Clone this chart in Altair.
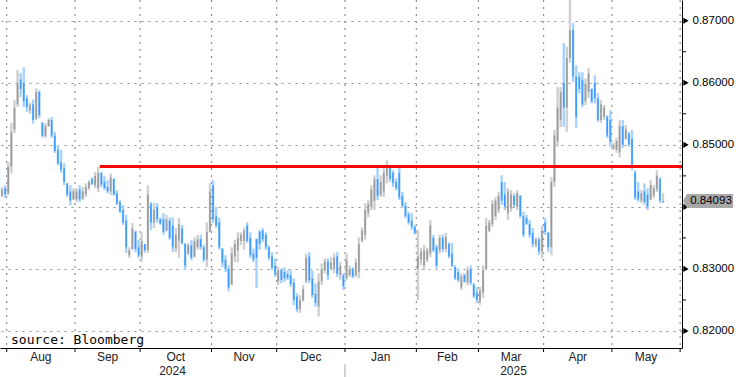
import altair as alt
import pandas as pd

# ---------------- data ----------------
START = "2024-07-29"          # first business day shown
OPEN = [
    .8445, .8418, .8430, .8422, .8465, .8525, .8565, .8605, .8600, .8575, .8555, .8565, .8542, .8585, .8535,
    .8514, .8530, .8540, .8515, .8492, .8472, .8462, .8438, .8425, .8412,
    .8412, .8428, .8413, .8420, .8430, .8445, .8435, .8430, .8455, .8440, .8432, .8425, .8445, .8422, .8408,
    .8395, .8378, .8322, .8332, .8360, .8335,
    .8320, .8340, .8330, .8405, .8375, .8400, .8380, .8380, .8362, .8378, .8370, .8333, .8345, .8365, .8340,
    .8325, .8338, .8320, .8335, .8348, .8335, .8315, .8360,
    .8435, .8385, .8375, .8333, .8315, .8300, .8275, .8320, .8330, .8345, .8345, .8370, .8350, .8325, .8348,
    .8360, .8362, .8355, .8335, .8320, .8305,
    .8280, .8298, .8295, .8292, .8290, .8278, .8255, .8235, .8250, .8280, .8320, .8285, .8260, .8240, .8280,
    .8298, .8312, .8300, .8300, .8320, .8290, .8290,
    .8285, .8290, .8300, .8290, .8295, .8345, .8355, .8390, .8400, .8410, .8445, .8420, .8425, .8450, .8465,
    .8455, .8440, .8455, .8418, .8402, .8388, .8378, .8368,
    .8300, .8315, .8305, .8315, .8325, .8350, .8335, .8330, .8350, .8332, .8340, .8325, .8303, .8295, .8270,
    .8290, .8278, .8300, .8275, .8262,
    .8248, .8262, .8300, .8362, .8372, .8385, .8395, .8440, .8420, .8390, .8398, .8418, .8400, .8418, .8385,
    .8382, .8372, .8358, .8338, .8348, .8328,
    .8375, .8358, .8335, .8440, .8505, .8540, .8600, .8560, .8640, .8685, .8610, .8610, .8605, .8570, .8585,
    .8590, .8600, .8575, .8540, .8545, .8545, .8540,
    .8494, .8492, .8488, .8530, .8510, .8518, .8510, .8455, .8425, .8410, .8425, .8420, .8412, .8418, .8428,
    .8445, .8407,
]
HIGH = [
    .8462, .8432, .8435, .8472, .8535, .8572, .8621, .8616, .8625, .8580, .8568, .8573, .8591, .8588, .8537,
    .8535, .8543, .8545, .8521, .8500, .8492, .8470, .8438, .8435, .8430,
    .8430, .8435, .8432, .8438, .8443, .8448, .8456, .8465, .8456, .8450, .8443, .8454, .8446, .8427, .8411,
    .8403, .8387, .8335, .8374, .8362, .8347,
    .8359, .8340, .8435, .8408, .8406, .8406, .8383, .8390, .8387, .8383, .8383, .8366, .8382, .8371, .8342,
    .8342, .8347, .8351, .8355, .8355, .8339, .8375, .8438,
    .8443, .8400, .8383, .8333, .8322, .8306, .8335, .8347, .8359, .8359, .8367, .8375, .8359, .8333, .8349,
    .8363, .8366, .8359, .8338, .8327, .8317,
    .8303, .8301, .8303, .8298, .8298, .8285, .8261, .8258, .8274, .8325, .8327, .8298, .8277, .8293, .8309,
    .8317, .8317, .8319, .8325, .8327, .8311, .8293,
    .8325, .8306, .8303, .8317, .8351, .8367, .8406, .8411, .8435, .8451, .8464, .8451, .8462, .8475, .8466,
    .8459, .8446, .8464, .8424, .8408, .8392, .8390, .8371,
    .8363, .8334, .8339, .8334, .8379, .8355, .8339, .8355, .8355, .8358, .8343, .8342, .8306, .8301, .8293,
    .8293, .8303, .8306, .8277, .8271,
    .8271, .8306, .8382, .8379, .8411, .8416, .8424, .8451, .8440, .8430, .8427, .8422, .8427, .8419, .8392,
    .8387, .8379, .8366, .8351, .8351, .8370,
    .8382, .8360, .8448, .8524, .8593, .8593, .8664, .8658, .8733, .8696, .8628, .8617, .8617, .8607, .8624,
    .8591, .8612, .8583, .8572, .8564, .8548, .8556,
    .8503, .8512, .8540, .8540, .8532, .8521, .8524, .8459, .8440, .8427, .8438, .8430, .8443, .8435, .8459,
    .8448, .8422,
]
LOW = [
    .8411, .8416, .8414, .8419, .8454, .8519, .8561, .8577, .8561, .8553, .8550, .8534, .8540, .8543, .8512,
    .8511, .8529, .8511, .8487, .8467, .8455, .8435, .8416, .8403, .8411,
    .8408, .8408, .8411, .8416, .8427, .8435, .8430, .8424, .8432, .8427, .8422, .8419, .8418, .8403, .8390,
    .8371, .8326, .8318, .8331, .8327, .8318,
    .8311, .8326, .8326, .8363, .8366, .8374, .8371, .8355, .8360, .8347, .8327, .8327, .8318, .8339, .8298,
    .8322, .8314, .8318, .8331, .8331, .8311, .8303, .8359,
    .8374, .8366, .8331, .8303, .8295, .8264, .8274, .8311, .8311, .8338, .8331, .8342, .8318, .8311, .8269,
    .8331, .8343, .8331, .8314, .8298, .8287,
    .8274, .8277, .8279, .8282, .8271, .8242, .8230, .8229, .8247, .8277, .8277, .8253, .8239, .8223, .8274,
    .8293, .8282, .8298, .8293, .8287, .8282, .8266,
    .8282, .8287, .8285, .8287, .8285, .8343, .8347, .8383, .8395, .8395, .8411, .8416, .8416, .8438, .8440,
    .8432, .8427, .8411, .8398, .8382, .8371, .8363, .8355,
    .8250, .8306, .8298, .8311, .8319, .8327, .8301, .8325, .8327, .8327, .8317, .8303, .8282, .8279, .8266,
    .8277, .8274, .8274, .8253, .8245,
    .8242, .8253, .8298, .8359, .8368, .8379, .8390, .8403, .8395, .8379, .8392, .8400, .8395, .8382, .8351,
    .8371, .8350, .8335, .8335, .8322, .8317,
    .8355, .8327, .8322, .8432, .8497, .8529, .8529, .8521, .8632, .8601, .8527, .8583, .8561, .8564, .8575,
    .8567, .8567, .8537, .8535, .8540, .8511, .8497,
    .8492, .8487, .8480, .8495, .8508, .8497, .8459, .8411, .8408, .8406, .8403, .8395, .8411, .8414, .8424,
    .8406, .8406,
]
CLOSE = [
    .8420, .8428, .8420, .8465, .8520, .8560, .8600, .8590, .8570, .8560, .8565, .8540, .8585, .8548, .8515,
    .8530, .8540, .8515, .8490, .8470, .8460, .8440, .8420, .8410, .8425,
    .8425, .8412, .8425, .8432, .8440, .8437, .8450, .8455, .8436, .8430, .8425, .8448, .8420, .8405, .8392,
    .8375, .8335, .8330, .8365, .8332, .8322,
    .8345, .8330, .8420, .8375, .8395, .8380, .8373, .8360, .8380, .8350, .8335, .8355, .8372, .8342, .8305,
    .8338, .8318, .8345, .8348, .8335, .8315, .8360, .8425,
    .8380, .8370, .8335, .8310, .8300, .8270, .8325, .8340, .8350, .8355, .8362, .8345, .8322, .8315, .8318,
    .8340, .8348, .8335, .8318, .8302, .8292,
    .8298, .8282, .8285, .8285, .8275, .8250, .8235, .8250, .8268, .8318, .8282, .8258, .8245, .8280, .8300,
    .8312, .8290, .8310, .8318, .8292, .8305, .8272,
    .8315, .8300, .8288, .8310, .8340, .8362, .8395, .8405, .8428, .8445, .8418, .8440, .8455, .8468, .8445,
    .8438, .8430, .8415, .8402, .8385, .8375, .8368, .8358,
    .8320, .8328, .8330, .8330, .8370, .8330, .8305, .8350, .8332, .8352, .8320, .8305, .8285, .8282, .8288,
    .8280, .8298, .8278, .8256, .8250,
    .8265, .8298, .8370, .8375, .8405, .8410, .8418, .8410, .8400, .8425, .8420, .8403, .8422, .8385, .8355,
    .8373, .8355, .8340, .8348, .8328, .8362,
    .8360, .8335, .8440, .8515, .8560, .8585, .8560, .8640, .8685, .8610, .8545, .8590, .8565, .8598, .8615,
    .8570, .8575, .8540, .8565, .8560, .8515, .8505,
    .8500, .8506, .8530, .8500, .8525, .8500, .8465, .8415, .8412, .8422, .8408, .8400, .8435, .8430, .8450,
    .8410, .84093,
]
Y_TICKS = [0.82, 0.83, 0.84, 0.85, 0.86, 0.87]
Y_MINOR = [0.825, 0.835, 0.845, 0.855, 0.865]
HIDDEN_LABEL = 0.84     # axis label covered by the last-price tag
LEVEL = 0.8465          # red horizontal level
LEVEL_START = 32.5      # starts at the Sep-11 high (bar index)
LAST = 0.84093
SOURCE = "source: Bloomberg"
AXIS_END = "2025-06-06"

# ---------------- layout ----------------
W, H = 682, 348
X_DOM = [0.34, 220.1]
Y_DOM = [0.81726, 0.87334]
FONT = "Liberation Sans"
GRID = "#8f8f8f"

n = len(CLOSE)
dates = pd.bdate_range(START, periods=n)
bars = pd.DataFrame({"i": range(n), "date": dates, "o": OPEN, "h": HIGH, "l": LOW, "c": CLOSE})

axis_days = pd.bdate_range(START, AXIS_END)
per = axis_days.to_period("M")
bounds = [k - 0.5 for k in range(1, len(per)) if per[k] != per[k - 1]]
bound_df = pd.DataFrame({"b": bounds})
labels = []
for a, b in zip(bounds[:-1], bounds[1:]):
    labels.append({"mid": (a + b) / 2, "lab": axis_days[int(a + 0.5)].strftime("%b")})
month_df = pd.DataFrame(labels)
jan_b = [b for b in bounds if axis_days[int(b + 0.5)].month == 1][0]
year_df = pd.DataFrame({
    "mid": [(X_DOM[0] + jan_b) / 2, (jan_b + X_DOM[1]) / 2],
    "lab": [str(axis_days[0].year), str(axis_days[int(jan_b + 0.5)].year)],
})
major_df = pd.DataFrame({"v": Y_TICKS})
minor_df = pd.DataFrame({"v": Y_MINOR})
one = pd.DataFrame({"last": [LAST], "level": [LEVEL], "start": [LEVEL_START],
                    "end": [X_DOM[1]], "jan": [jan_b], "src": [SOURCE],
                    "lab": [f"{LAST:.5f}"]})

xs = alt.Scale(domain=X_DOM, nice=False, zero=False)
ys = alt.Scale(domain=Y_DOM, nice=False, zero=False)

x_axis = alt.Axis(labels=False, ticks=False, grid=False, domain=True, domainColor="#000000",
                  domainWidth=1, title=None)
y_axis = alt.Axis(orient="right", values=Y_TICKS, format=".5f", grid=True, gridDash=[2, 5],
                  gridColor=GRID, gridWidth=1.2, gridOpacity=1, ticks=False, domain=True,
                  domainColor="#000000", domainWidth=1, labelPadding=10, labelFont=FONT,
                  labelFontSize=11.5, labelColor="#000000", title=None,
                  labelExpr=f"abs(datum.value - {HIDDEN_LABEL}) < 1e-6 ? '' : datum.label")

up = "datum.c >= datum.o"
wick = alt.Chart(bars).mark_rule(strokeWidth=2.4, clip=True).encode(
    x=alt.X("i:Q", scale=xs, axis=x_axis),
    y=alt.Y("l:Q", scale=ys, axis=y_axis),
    y2="h:Q",
    color=alt.condition(up, alt.value("#d0d0d0"), alt.value("#a6d2ff")),
)
body = alt.Chart(bars).mark_rule(strokeWidth=1.6, clip=True).encode(
    x=alt.X("i:Q", scale=xs),
    y=alt.Y("o:Q", scale=ys),
    y2="c:Q",
    color=alt.condition(up, alt.value("#9a9a9a"), alt.value("#3d9bff")),
)

vgrid = alt.Chart(bound_df).mark_rule(strokeDash=[2, 5], color=GRID, strokeWidth=1.2).encode(
    x=alt.X("b:Q", scale=xs), y=alt.value(0), y2=alt.value(H))
xticks = alt.Chart(bound_df).mark_rule(color="#000000", strokeWidth=1).encode(
    x=alt.X("b:Q", scale=xs), y=alt.value(H), y2=alt.value(H + 4))
mlabels = alt.Chart(month_df).mark_text(font=FONT, fontSize=12, color="#222222",
                                        baseline="alphabetic", align="center").encode(
    x=alt.X("mid:Q", scale=xs), y=alt.value(361), text="lab:N")
ylabels = alt.Chart(year_df).mark_text(font=FONT, fontSize=12, color="#222222",
                                       baseline="alphabetic", align="center").encode(
    x=alt.X("mid:Q", scale=xs), y=alt.value(375), text="lab:N")
ysep = alt.Chart(one).mark_rule(color="#c4c4c4", strokeWidth=1.5).encode(
    x=alt.X("jan:Q", scale=xs), y=alt.value(364), y2=alt.value(377))

red = alt.Chart(one).mark_rule(color="#ff0000", strokeWidth=3).encode(
    x=alt.X("start:Q", scale=xs), x2="end:Q", y=alt.Y("level:Q", scale=ys))

minor = alt.Chart(minor_df).mark_rule(color="#000000", strokeWidth=1).encode(
    y=alt.Y("v:Q", scale=ys), x=alt.value(W), x2=alt.value(W + 4))
arrows = alt.Chart(major_df).mark_point(shape="triangle-right", filled=True, size=38,
                                         color="#000000", opacity=1).encode(
    y=alt.Y("v:Q", scale=ys), x=alt.value(W + 4))

tag_path = "M-1,0L-0.84,-0.28L1,-0.28L1,0.28L-0.84,0.28Z"
tag = alt.Chart(one).mark_point(shape=tag_path, filled=True, size=2500, color="#a8a8a8",
                                opacity=1).encode(x=alt.value(W + 26), y=alt.Y("last:Q", scale=ys))
tag_text = alt.Chart(one).mark_text(font=FONT, fontSize=11.5, color="#000000", align="center",
                                    baseline="middle").encode(
    x=alt.value(W + 29), y=alt.Y("last:Q", scale=ys), text="lab:N")

source = alt.Chart(one).mark_text(font="DejaVu Sans Mono", fontSize=13, color="#000000",
                                  align="left", baseline="alphabetic").encode(
    x=alt.value(11), y=alt.value(343.5), text="src:N")

chart = alt.layer(
    vgrid, wick, body, red, xticks, mlabels, ylabels, ysep, minor, arrows, tag, tag_text, source
).properties(
    width=W, height=H,
    padding={"left": 0, "top": 0, "right": 54, "bottom": 29},
    autosize=alt.AutoSizeParams(type="none"),
    background="white",
).configure_view(stroke=None)

chart.save("out.html", embed_options={"renderer": "svg", "actions": False})
